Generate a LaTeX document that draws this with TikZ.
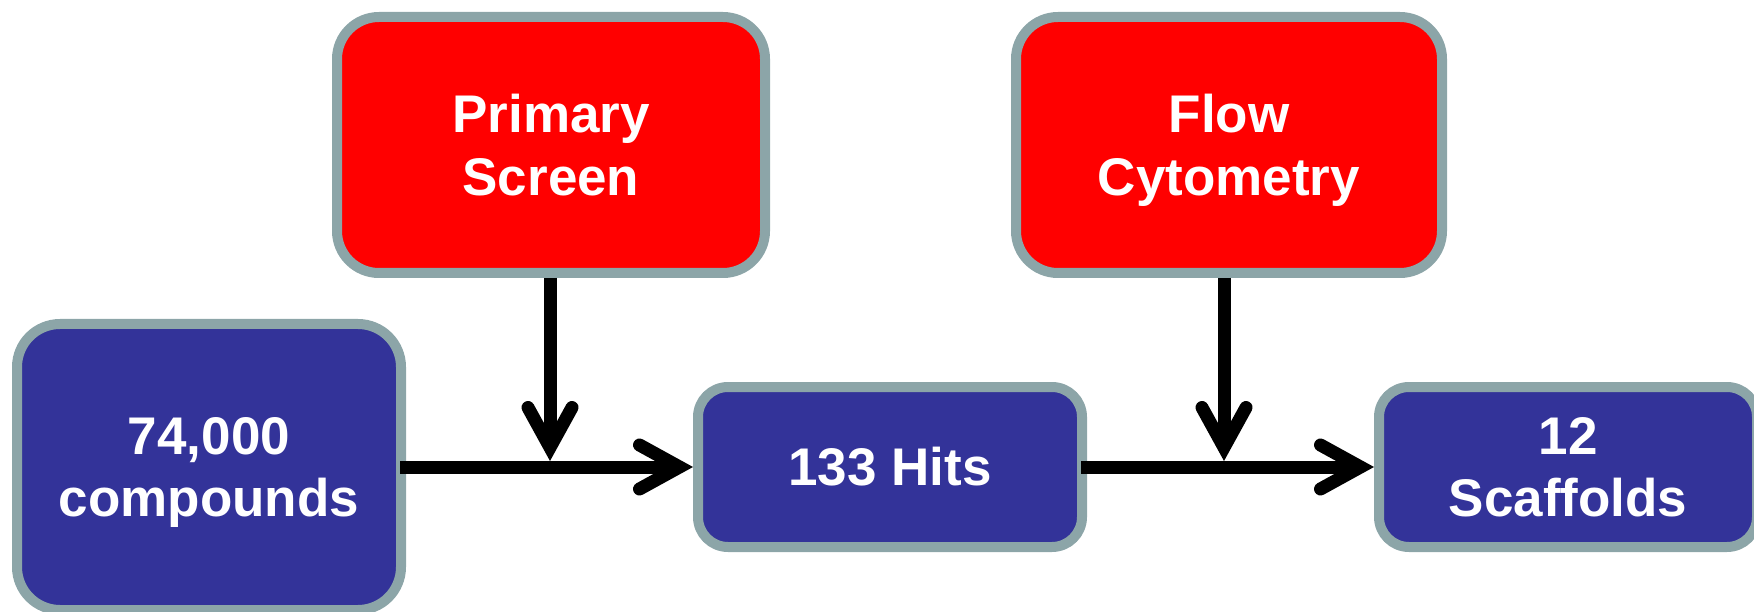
\documentclass[tikz,border=0pt]{standalone}
\usepackage{fontspec}
\setmainfont{Liberation Sans}
\usetikzlibrary{arrows.meta}
\definecolor{boxblue}{RGB}{51,51,153}
\definecolor{boxred}{RGB}{255,0,0}
\definecolor{bordergrey}{RGB}{140,165,168}
\tikzset{
  box/.style={draw=bordergrey, line width=10pt, text=white,
    font=\fontsize{53}{62.5}\selectfont\bfseries, align=center, inner sep=0pt},
  twoline/.style={text depth=0pt},
  bluebox/.style={box, fill=boxblue},
  redbox/.style={box, fill=boxred, rounded corners=42pt, twoline},
  conn/.style={line width=13pt, draw=black, shorten <=-6pt,
    -{Straight Barb[length=40pt, width=44pt, line cap=round]}}
}
\begin{document}
\begin{tikzpicture}[x=1pt, y=-1pt]
  \useasboundingbox (0,0) rectangle (1754,612);
  % top row (red)
  \node[redbox, minimum width=428pt, minimum height=256pt] (ps) at (551,145) {Primary\\Screen};
  \node[redbox, minimum width=426pt, minimum height=256pt] (fc) at (1229,145) {Flow\\Cytometry};
  % bottom row (blue)
  \node[bluebox, twoline, rounded corners=43pt, minimum width=384pt, minimum height=286pt] (cmp) at (209,467) {74,000\\compounds};
  \node[bluebox, rounded corners=30pt, minimum width=384pt, minimum height=160pt] (hits) at (890,467) {133 Hits};
  \node[bluebox, twoline, rounded corners=30pt, minimum width=378pt, minimum height=160pt] (scf) at (1568,467) {12\\Scaffolds};
  % junctions on the horizontal connectors
  \coordinate (j1) at (550,461);
  \coordinate (j2) at (1224,461);
  % connectors
  \draw[conn] (cmp.east |- hits.west) -- (hits.west);
  \draw[conn] (hits.east) -- (scf.west);
  \draw[conn, shorten <=0pt] (ps.south -| j1) -- (j1);
  \draw[conn, shorten <=0pt] (fc.south -| j2) -- (j2);
\end{tikzpicture}
\end{document}
